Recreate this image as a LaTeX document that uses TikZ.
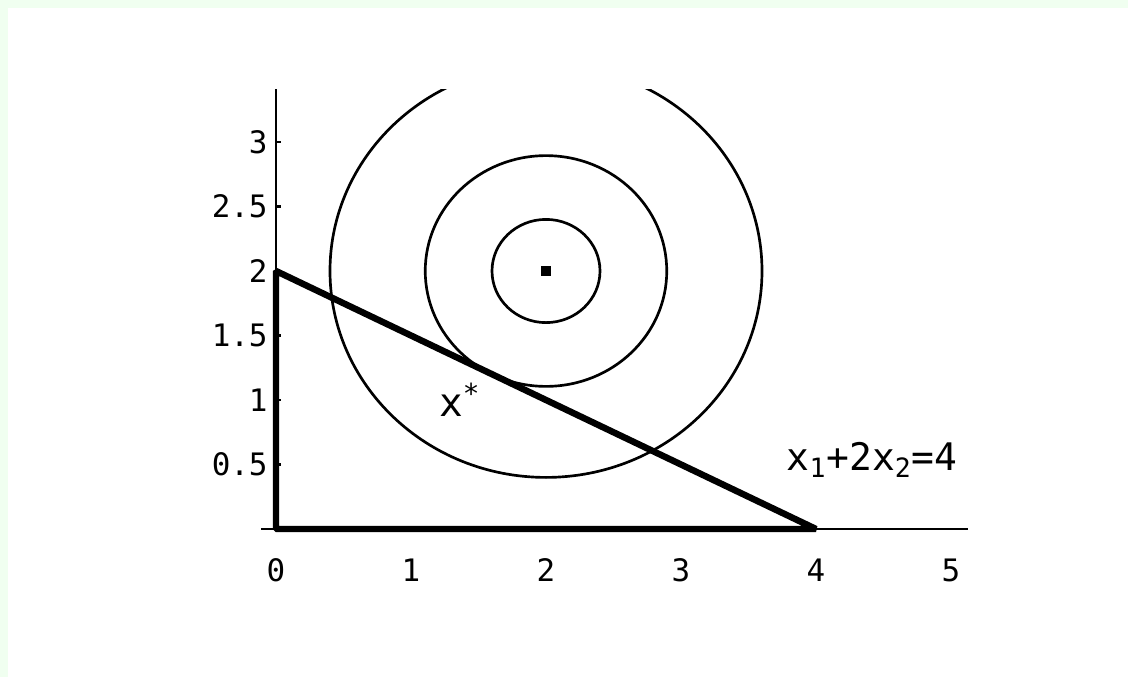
\documentclass[tikz,border=0pt]{standalone}
\usepackage{fontspec}
\setmonofont{DejaVu Sans Mono}
\usetikzlibrary{positioning}
\definecolor{PlotFrame}{RGB}{240,255,240}

\begin{document}
\begin{tikzpicture}[
    x=3.375cm,
    y=3.225cm,
    font=\ttfamily\fontsize{22}{24}\selectfont,
    thinaxis/.style={
        line width=2.1pt
    },
    thickaxis/.style={
        line width=4.6pt,
        line join=bevel
    },
    level/.style={
        line width=1.9pt
    },
    ylab/.style={
        anchor=east,
        inner sep=0pt
    },
    xlab/.style={
        inner sep=0pt
    },
    starlab/.style={
        inner sep=0pt,
        font=\ttfamily\fontsize{28}{30}\selectfont
    },
    conslab/.style={
        inner sep=0pt,
        anchor=base,
        font=\ttfamily\fontsize{27}{30}\selectfont
    }
]

\fill[PlotFrame] (-2.0444,-1.1473) rectangle (6.3111,4.1008);
\fill[white] (-1.9852,-1.1473) rectangle (6.3111,4.0388);
\useasboundingbox (-2.0444,-1.1473) rectangle (6.3111,4.1008);

\coordinate (O) at (0,0);
\coordinate (A) at (0,2);
\coordinate (B) at (4,0);
\coordinate (xmin) at (-0.11,0);
\coordinate (xmax) at (5.126,0);
\coordinate (ytop) at (0,3.41);

\begin{scope}
\clip (-0.2,0) rectangle (5.2,3.41);
\draw[level] (2,2) circle[radius=0.4];
\draw[level] (2,2) circle[radius=0.8944];
\draw[level] (2,2) circle[radius=1.6];
\end{scope}

\draw[thinaxis] (xmin) -- (xmax);
\draw[thinaxis] (A) -- (ytop);
\draw[thickaxis] (A) -- (O) -- (B) -- cycle;

\foreach \t in {0.5,1,1.5,2.5,3}
    \draw[thinaxis] (0,\t) -- ++(0.04,0);

\foreach \t in {0,1,...,5}
    \node[xlab] (xt\t) at (\t,-0.32) {\t};

\foreach \t/\n in {0.5/a,1/b,1.5/c,2/d,2.5/e,3/f}
    \node[ylab] (yt\n) at (-0.06,\t) {\t};

\node[fill, minimum size=0.25cm, inner sep=0pt] (opt) at (2,2) {};

\node[starlab] (xstar) at (1.36,1.0) {x\textsuperscript{*}};
\node[conslab] (cons) at (4.415,0.457) {x\textsubscript{1}+2x\textsubscript{2}=4};

\end{tikzpicture}
\end{document}
